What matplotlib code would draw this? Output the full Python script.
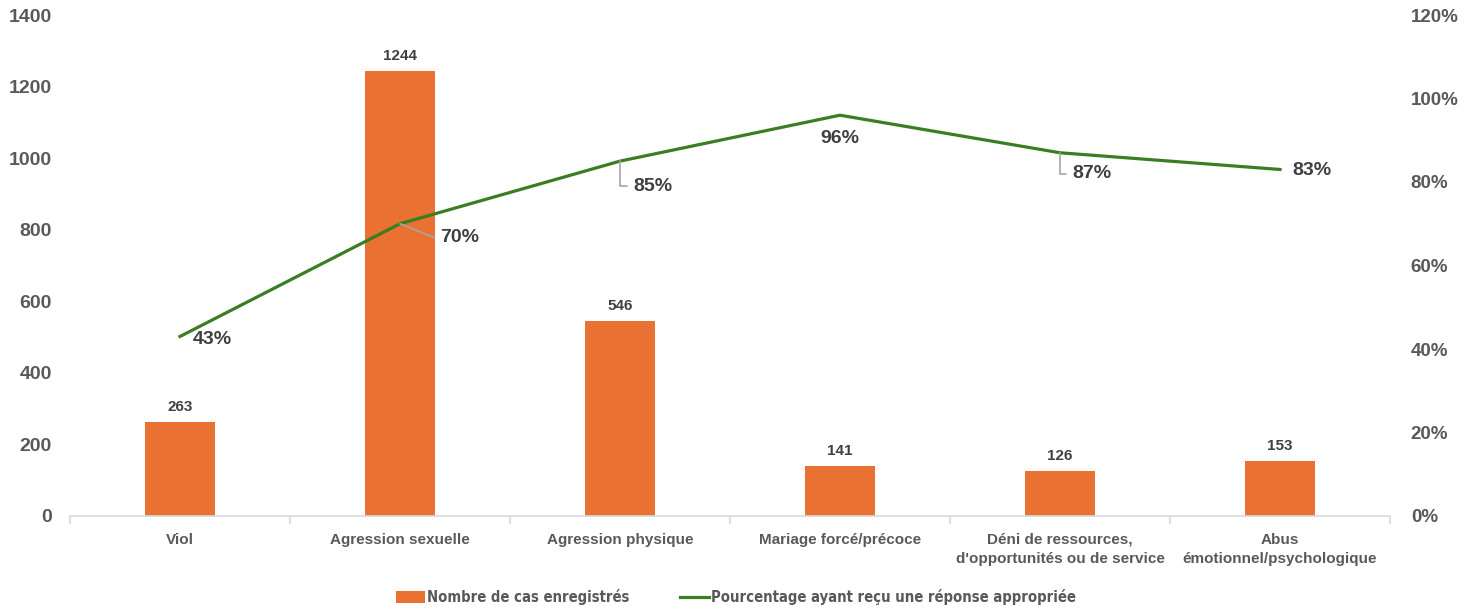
import matplotlib
matplotlib.use("Agg")
import matplotlib.pyplot as plt
import numpy as np

categories = ["Viol", "Agression sexuelle", "Agression physique", "Mariage forcé/précoce",
              "Déni de ressources,\nd'opportunités ou de service", "Abus\némotionnel/psychologique"]
cas = [263, 1244, 546, 141, 126, 153]
pourcentage = [0.43, 0.70, 0.85, 0.96, 0.87, 0.83]

orange = "#E97132"
vert = "#3B7D23"
gris_tick = "#595959"
gris_label = "#404040"

plt.rcParams["font.family"] = ["Liberation Sans", "DejaVu Sans"]

fig = plt.figure(figsize=(14.76, 6.09), dpi=100)
ax = fig.add_axes([70 / 1476, 93 / 609, 1320 / 1476, 501 / 609])
ax2 = ax.twinx()

x = np.arange(len(categories))
bars = ax.bar(x, cas, width=0.32, color=orange, label="Nombre de cas enregistrés", zorder=2)
line, = ax2.plot(x, pourcentage, color=vert, lw=2.3, label="Pourcentage ayant reçu une réponse appropriée", zorder=3)

ax.set_xlim(-0.5, len(categories) - 0.5)
ax.set_ylim(0, 1400)
ax2.set_ylim(0, 1.2)
ax.set_yticks(range(0, 1401, 200))
ax2.set_yticks(np.arange(0, 1.21, 0.2))
ax2.set_yticklabels([f"{int(round(v * 100))}%" for v in np.arange(0, 1.21, 0.2)])

for a in (ax, ax2):
    for s in ("top", "left", "right"):
        a.spines[s].set_visible(False)
ax2.spines["bottom"].set_visible(False)
ax.spines["bottom"].set_color("#d9d9d9")
ax.spines["bottom"].set_linewidth(1.2)

ax.tick_params(axis="y", length=0, pad=13, labelsize=14, labelcolor=gris_tick)
ax2.tick_params(axis="y", length=0, pad=15, labelsize=13.5, labelcolor=gris_tick)
for lab in ax.get_yticklabels() + ax2.get_yticklabels():
    lab.set_fontweight("bold")

ax.set_xticks(x)
ax.set_xticklabels(categories, fontsize=11, fontweight="bold", color=gris_tick, linespacing=1.45)
ax.tick_params(axis="x", which="major", length=0, pad=12)
ax.set_xticks(np.arange(-0.5, len(categories), 1), minor=True)
ax.tick_params(axis="x", which="minor", length=6, color="#d9d9d9", width=1.2)

for xi, v in zip(x, cas):
    ax.annotate(str(v), (xi, v), xytext=(0, 8), textcoords="offset pixels",
                ha="center", va="bottom", fontsize=11, fontweight="bold", color=gris_label)

# position des étiquettes de pourcentage (en pixels)
offsets = [(13, -3), (40, -14), (13, -25), (0, -15), (12, -21), (12, -1)]
leaders = [None, "angle,angleA=0,angleB=-22", "angle,angleA=0,angleB=90", None,
           "angle,angleA=0,angleB=90", None]
for xi, p, off, cs in zip(x, pourcentage, offsets, leaders):
    kw = {}
    if cs is not None:
        kw["arrowprops"] = dict(arrowstyle="-", color="#a6a6a6", lw=1.2, connectionstyle=cs,
                                shrinkA=2, shrinkB=0, relpos=(0, 0.5))
    ha = "center" if off[0] == 0 else "left"
    ax2.annotate(f"{int(round(p * 100))}%", (xi, p), xytext=(off[0] * 1.0, off[1] * 1.0),
                 textcoords="offset pixels", ha=ha, va="center" if off[0] else "top",
                 fontsize=14, fontweight="bold", color=gris_label, zorder=4, **kw)

leg = fig.legend([bars, line], [bars.get_label(), line.get_label()], loc="center",
                 bbox_to_anchor=(736 / 1476, 1 - 597 / 609), ncol=2, frameon=False,
                 handlelength=2.0, handleheight=0.8, handletextpad=0.15, columnspacing=3.4,
                 prop={"family": "DejaVu Sans", "stretch": "condensed", "weight": "bold", "size": 10.6})
for t in leg.get_texts():
    t.set_color(gris_tick)

fig.savefig("out.png", dpi=100)
